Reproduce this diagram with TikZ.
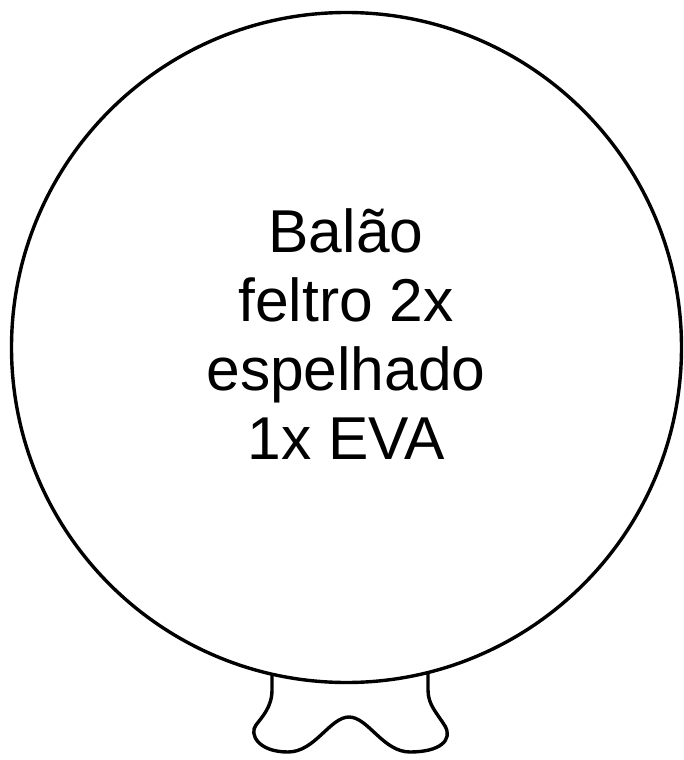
\documentclass[tikz,border=0pt]{standalone}
\usepackage{fontspec}
\setmainfont{Liberation Sans}

\begin{document}
\begin{tikzpicture}[x=1pt,y=-1pt]
\tikzset{outline/.style={black,line width=3.4pt,line join=round}}
\tikzstyle{every node}+=[inner sep=0pt]
\useasboundingbox (0,0) rectangle (684,760);
\coordinate (centre) at (346.5,347.5);
% knot below the balloon
\draw [outline,fill=white] (272,670) -- (272,690) .. controls (272,707) and (262,717) .. (256,725)
  .. controls (249,734) and (258,752) .. (288,752)
  .. controls (315,752) and (330,717) .. (349,717)
  .. controls (368,717) and (383,752) .. (410,752)
  .. controls (440,752) and (453,740) .. (445,726)
  .. controls (437,713) and (428,705) .. (428,690) -- (428,670);
% balloon
\draw [outline,fill=white] (centre) circle (335);
\node (label) [align=center,font=\fontsize{60.5}{69}\selectfont] at (346,334)
  {Balão\\feltro 2x\\espelhado\\1x EVA};
\end{tikzpicture}
\end{document}
